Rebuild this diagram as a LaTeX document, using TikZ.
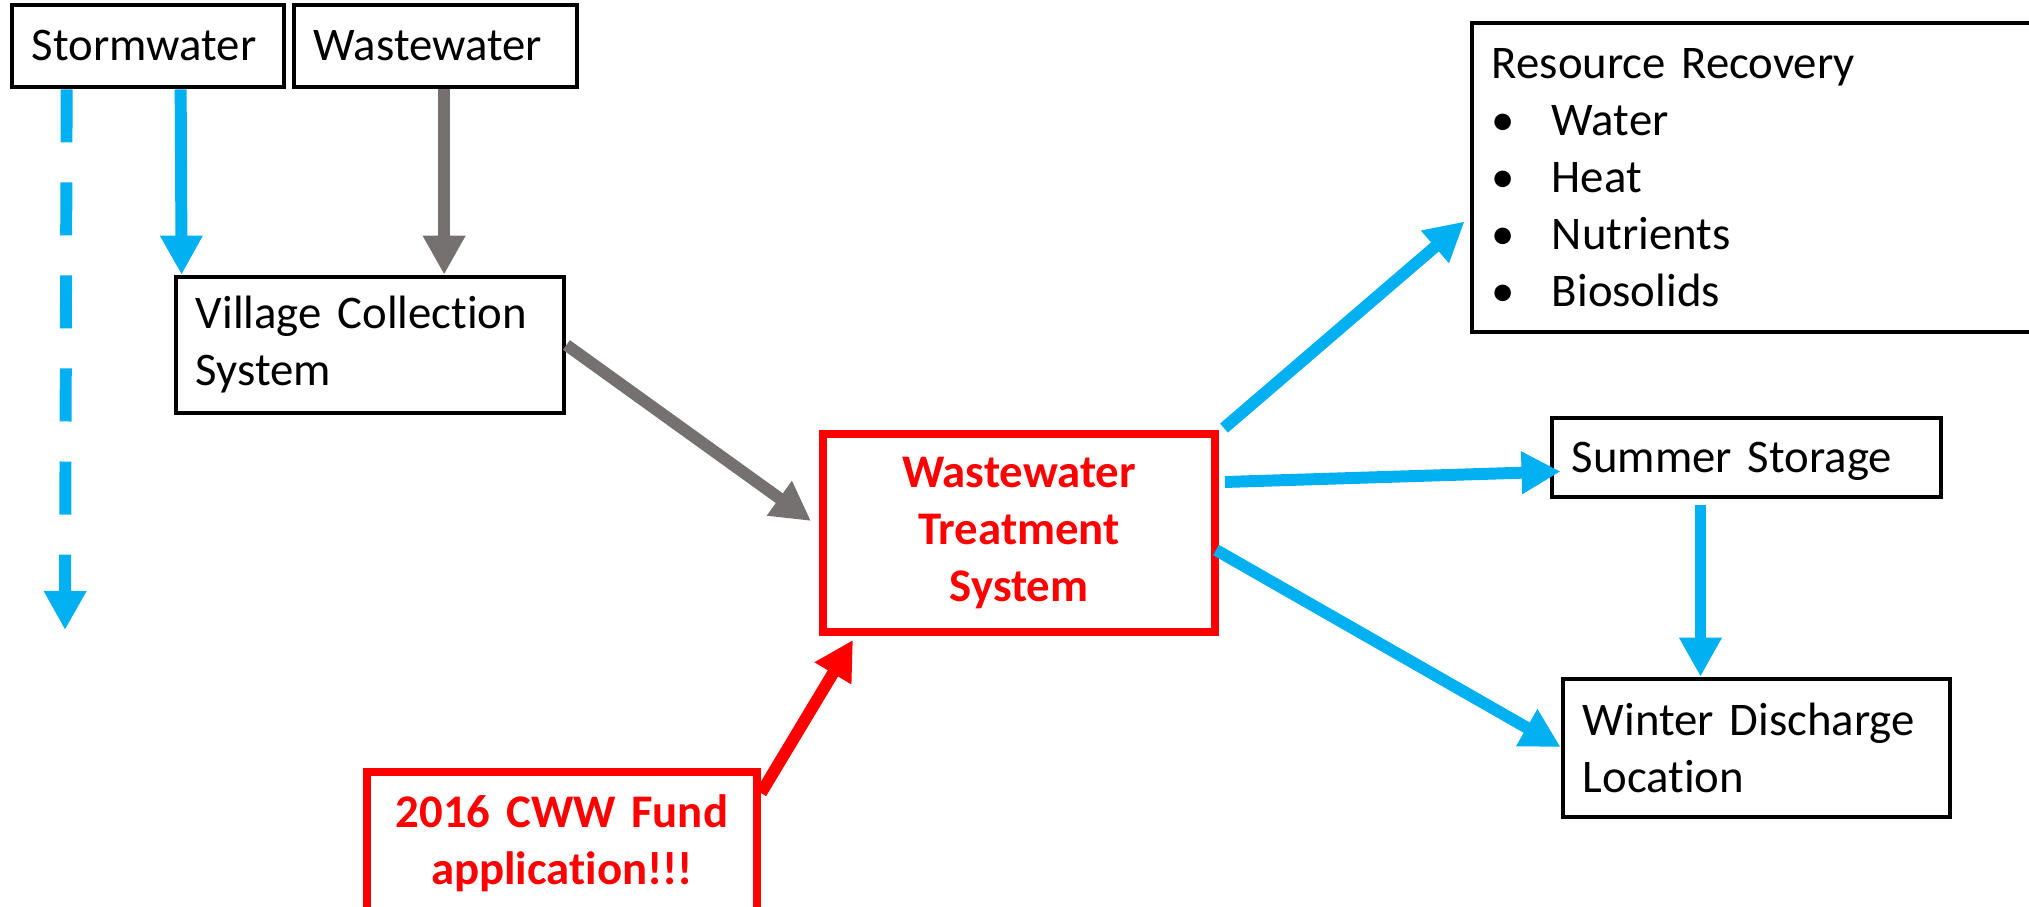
\documentclass[tikz,border=0pt]{standalone}
\usepackage{fontspec}
\setmainfont{Carlito}[Ligatures=NoCommon]
\usetikzlibrary{arrows.meta,calc}

\definecolor{flowblue}{HTML}{00B0F0}
\definecolor{flowgrey}{HTML}{767171}
\definecolor{fundred}{HTML}{FF0000}

\tikzset{
	box/.style={draw, line width=1.3pt, inner xsep=0.2cm, inner ysep=0pt, align=left,
		font=\fontsize{13.3}{16.2}\selectfont},
	redbox/.style={box, draw=fundred, text=fundred, line width=2.2pt, align=center,
		font=\fontsize{13.3}{16.2}\selectfont\bfseries},
	flow/.style={line width=3.4pt, -{Triangle[width=11.4pt,length=11.1pt]}},
}
\newcommand{\bul}{\makebox[0.6cm][l]{\textbullet}}

\begin{document}
\begin{tikzpicture}[x=0.01cm, y=-0.01cm]
	\clip (0,0) rectangle (2029,907);

	% sources
	\node[box, minimum width=2.72cm, minimum height=0.82cm, text width=2.32cm] (storm) at (148,46) {Stormwater};
	\node[box, minimum width=2.83cm, minimum height=0.82cm, text width=2.43cm] (waste) at (435.5,46) {Wastewater};
	\node[box, minimum width=3.88cm, minimum height=1.36cm, text width=3.48cm] (village) at (370,345) {Village Collection\\System};

	% treatment
	\node[redbox, minimum width=3.92cm, minimum height=1.98cm, text width=3.52cm] (wts) at (1019,533) {Wastewater\\Treatment\\System};
	\node[redbox, minimum width=3.90cm, minimum height=1.42cm, text width=3.50cm] (fund) at (562,843) {2016 CWW Fund\\application!!!};

	% outputs
	\node[box, minimum width=6.00cm, minimum height=3.09cm, text width=5.60cm] (rr) at (1772,177.5)
		{Resource Recovery\\\bul Water\\\bul Heat\\\bul Nutrients\\\bul Biosolids};
	\node[box, minimum width=3.89cm, minimum height=0.79cm, text width=3.49cm, text depth=0pt] (summer) at (1746.5,457.5) {Summer Storage};
	\node[box, minimum width=3.87cm, minimum height=1.38cm, text width=3.47cm] (winter) at (1756.5,748) {Winter Discharge\\Location};

	\coordinate (stormout) at (65,630);
	\coordinate (wout) at ($(waste.south west)!0.53!(waste.south east)$);
	\coordinate (sout) at ($(summer.south)+(-46,6)$);

	\draw[flow, flowblue, dash pattern=on 0.53cm off 0.40cm]
		($(storm.south west)!0.206!(storm.south east)$) -- (stormout);
	\draw[flow, flowblue] ($(storm.south west)!0.618!(storm.south east)$) -- ($(village.north west)+(8,0)$);
	\draw[flow, flowgrey] (wout) -- (wout |- village.north);
	\draw[flow, flowgrey] (village.east) -- ($(wts.west)+(-8,-12)$);
	\draw[flow, fundred] ($(fund.north east)+(0,25)$) -- ($(wts.south west)+(34,4)$);
	\draw[flow, flowblue] ($(wts.north east)+(5,-2)$) -- ($(rr.west)+(-5,44)$);
	\draw[flow, flowblue] ($(wts.east)+(6,-51)$) -- ($(summer.west)+(11,14)$);
	\draw[flow, flowblue] ($(wts.east)+(-3,17)$) -- ($(winter.west)+(0,-1)$);
	\draw[flow, flowblue] (sout) -- (sout |- winter.north);
\end{tikzpicture}
\end{document}
